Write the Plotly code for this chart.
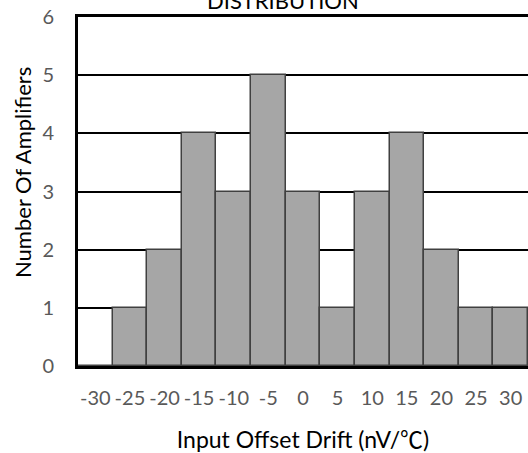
import plotly.graph_objects as go

drift = [-30, -25, -20, -15, -10, -5, 0, 5, 10, 15, 20, 25, 30]
counts = [0, 1, 2, 4, 3, 5, 3, 1, 3, 4, 2, 1, 1]
tick_labels = [str(v) for v in drift]

fig = go.Figure()
fig.add_trace(go.Bar(
    x=drift, y=counts, width=5,
    marker=dict(color="#a6a6a6", line=dict(color="#404040", width=1.5)),
))

title_font = "Lato, 'Noto Sans CJK JP', sans-serif"

fig.update_layout(
    width=528, height=453,
    margin=dict(l=78, r=0, t=17, b=87),
    paper_bgcolor="white", plot_bgcolor="white",
    showlegend=False,
    font=dict(family="Lato", color="#595959"),
    bargap=0,
    xaxis=dict(
        range=[-32.5, 32.5], tickmode="array", tickvals=drift, ticktext=tick_labels,
        showgrid=False, showline=True, linecolor="black", linewidth=3, mirror=True,
        ticks="", tickfont=dict(size=20, color="#595959"), ticklabelstandoff=12,
        title=dict(text="Input Offset Drift (nV/℃)",
                   font=dict(size=23, color="black", family=title_font), standoff=26),
        zeroline=False, automargin=False,
    ),
    yaxis=dict(
        range=[0, 6], dtick=1, showgrid=True, gridcolor="black", gridwidth=1.5,
        showline=True, linecolor="black", linewidth=3, zeroline=False,
        ticks="", tickfont=dict(size=20, color="#595959"), ticklabelstandoff=17,
        automargin=False,
    ),
    annotations=[
        dict(
            text="DISTRIBUTION", xref="paper", yref="paper", x=(283 - 78) / 450, y=1,
            xanchor="center", yanchor="bottom", yshift=1, showarrow=False,
            font=dict(size=22, color="black"),
        ),
        dict(
            text="Number Of Amplifiers", xref="paper", yref="paper", x=0, y=(366 - 173) / 349,
            xanchor="center", yanchor="middle", xshift=-56, textangle=-90, showarrow=False,
            font=dict(size=22, color="black"),
        ),
    ],
)

fig.write_html("out.html", config={"displayModeBar": False},
               post_script="document.body.style.margin='0';")
